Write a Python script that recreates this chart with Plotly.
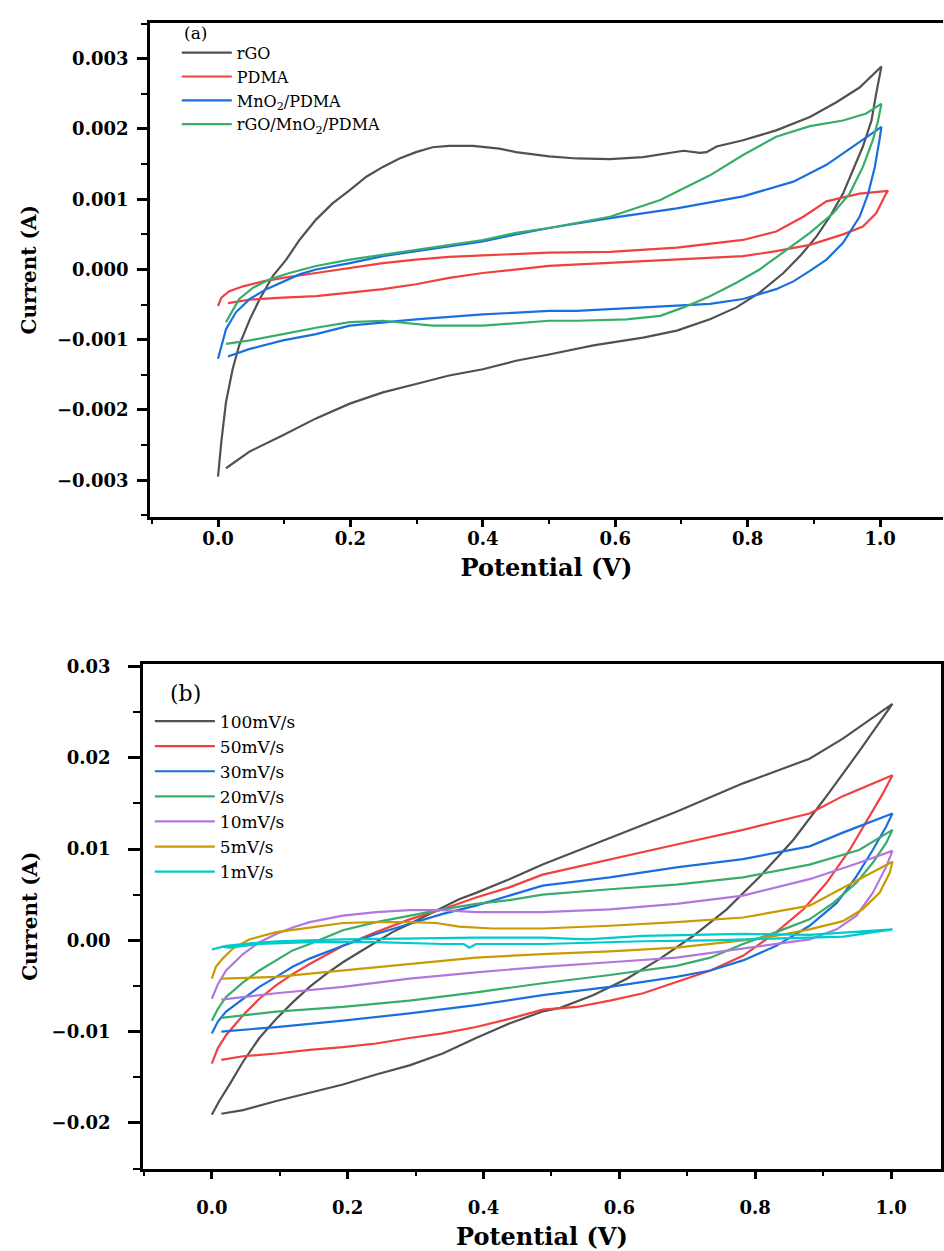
import plotly.graph_objects as go

# ---------------- Panel (a): CV of different electrodes ----------------
rGO_V = [0.000, 0.005, 0.012, 0.022, 0.032, 0.048, 0.063, 0.083, 0.103, 0.123, 0.148, 0.173, 0.199, 0.224,
         0.249, 0.274, 0.299, 0.324, 0.349, 0.385, 0.425, 0.450, 0.500, 0.542, 0.592, 0.642, 0.703, 0.728,
         0.738, 0.753, 0.793, 0.843, 0.894, 0.934, 0.969, 1.002,
         0.994, 0.987, 0.974, 0.959, 0.944, 0.924, 0.904, 0.879, 0.854, 0.818, 0.783, 0.743, 0.693, 0.642,
         0.567, 0.500, 0.450, 0.400, 0.349, 0.299, 0.249, 0.199, 0.148, 0.098, 0.048, 0.012]
rGO_I = [-2.95e-3, -2.45e-3, -1.89e-3, -1.42e-3, -1.08e-3, -0.71e-3, -0.42e-3, -0.09e-3, 0.14e-3, 0.42e-3,
         0.71e-3, 0.94e-3, 1.13e-3, 1.32e-3, 1.46e-3, 1.58e-3, 1.67e-3, 1.74e-3, 1.76e-3, 1.76e-3, 1.72e-3,
         1.67e-3, 1.61e-3, 1.58e-3, 1.57e-3, 1.60e-3, 1.69e-3, 1.66e-3, 1.67e-3, 1.75e-3, 1.84e-3, 1.98e-3,
         2.17e-3, 2.38e-3, 2.59e-3, 2.89e-3,
         2.50e-3, 2.12e-3, 1.75e-3, 1.42e-3, 1.08e-3, 0.75e-3, 0.47e-3, 0.19e-3, -0.05e-3, -0.33e-3,
         -0.54e-3, -0.71e-3, -0.87e-3, -0.97e-3, -1.08e-3, -1.21e-3, -1.30e-3, -1.42e-3, -1.51e-3,
         -1.63e-3, -1.75e-3, -1.91e-3, -2.12e-3, -2.36e-3, -2.59e-3, -2.83e-3]

PDMA_V = [0.000, 0.005, 0.017, 0.038, 0.068, 0.098, 0.148, 0.199, 0.249, 0.299, 0.349, 0.400, 0.450, 0.500,
          0.592, 0.693, 0.793, 0.843, 0.884, 0.919, 0.969, 1.012,
          1.009, 0.994, 0.974, 0.944, 0.894, 0.843, 0.793, 0.693, 0.592, 0.500, 0.400, 0.349, 0.299, 0.249,
          0.199, 0.148, 0.098, 0.048, 0.015]
PDMA_I = [-0.52e-3, -0.40e-3, -0.31e-3, -0.24e-3, -0.17e-3, -0.12e-3, -0.05e-3, 0.02e-3, 0.09e-3, 0.14e-3,
          0.18e-3, 0.20e-3, 0.22e-3, 0.24e-3, 0.25e-3, 0.31e-3, 0.42e-3, 0.54e-3, 0.75e-3, 0.97e-3, 1.08e-3,
          1.12e-3,
          1.08e-3, 0.80e-3, 0.61e-3, 0.50e-3, 0.35e-3, 0.26e-3, 0.19e-3, 0.14e-3, 0.09e-3, 0.05e-3, -0.05e-3,
          -0.12e-3, -0.21e-3, -0.28e-3, -0.33e-3, -0.38e-3, -0.40e-3, -0.43e-3, -0.48e-3]

MnO2_V = [0.000, 0.005, 0.012, 0.027, 0.048, 0.073, 0.098, 0.123, 0.148, 0.199, 0.249, 0.299, 0.349, 0.400,
          0.450, 0.500, 0.592, 0.693, 0.793, 0.869, 0.919, 0.969, 1.002,
          0.999, 0.992, 0.982, 0.969, 0.944, 0.919, 0.894, 0.869, 0.843, 0.793, 0.743, 0.642, 0.542, 0.500,
          0.400, 0.299, 0.199, 0.148, 0.098, 0.048, 0.015]
MnO2_I = [-1.27e-3, -1.08e-3, -0.85e-3, -0.61e-3, -0.42e-3, -0.28e-3, -0.17e-3, -0.07e-3, 0.00, 0.09e-3,
          0.19e-3, 0.26e-3, 0.33e-3, 0.40e-3, 0.50e-3, 0.59e-3, 0.73e-3, 0.87e-3, 1.04e-3, 1.25e-3, 1.49e-3,
          1.82e-3, 2.03e-3,
          1.84e-3, 1.46e-3, 1.08e-3, 0.75e-3, 0.38e-3, 0.14e-3, -0.02e-3, -0.17e-3, -0.28e-3, -0.42e-3,
          -0.49e-3, -0.54e-3, -0.59e-3, -0.59e-3, -0.64e-3, -0.71e-3, -0.80e-3, -0.92e-3, -1.01e-3,
          -1.13e-3, -1.24e-3]

COMP_V = [0.012, 0.020, 0.032, 0.053, 0.078, 0.108, 0.148, 0.199, 0.249, 0.299, 0.349, 0.400, 0.450, 0.500,
          0.592, 0.668, 0.743, 0.793, 0.843, 0.894, 0.944, 0.979, 1.002,
          0.997, 0.989, 0.974, 0.954, 0.929, 0.894, 0.854, 0.818, 0.783, 0.743, 0.703, 0.668, 0.617, 0.542,
          0.500, 0.400, 0.324, 0.249, 0.199, 0.148, 0.098, 0.048, 0.012]
COMP_I = [-0.75e-3, -0.61e-3, -0.42e-3, -0.26e-3, -0.14e-3, -0.05e-3, 0.05e-3, 0.14e-3, 0.21e-3, 0.28e-3,
          0.35e-3, 0.42e-3, 0.52e-3, 0.59e-3, 0.75e-3, 0.99e-3, 1.34e-3, 1.63e-3, 1.89e-3, 2.04e-3, 2.12e-3,
          2.22e-3, 2.36e-3,
          2.12e-3, 1.84e-3, 1.46e-3, 1.08e-3, 0.80e-3, 0.52e-3, 0.24e-3, 0.00, -0.19e-3, -0.38e-3, -0.54e-3,
          -0.66e-3, -0.71e-3, -0.73e-3, -0.73e-3, -0.80e-3, -0.80e-3, -0.73e-3, -0.75e-3, -0.83e-3,
          -0.92e-3, -1.01e-3, -1.06e-3]

names_a = ["rGO", "PDMA", "MnO<sub>2</sub>/PDMA", "rGO/MnO<sub>2</sub>/PDMA"]
colors_a = ["#515151", "#F14040", "#1A6FDF", "#37AD6B"]
data_a = [(rGO_V, rGO_I), (PDMA_V, PDMA_I), (MnO2_V, MnO2_I), (COMP_V, COMP_I)]

# ---------------- Panel (b): rGO/MnO2/PDMA at different scan rates ----------------
s100_V = [0.000, 0.011, 0.026, 0.046, 0.070, 0.095, 0.119, 0.144, 0.168, 0.193, 0.217, 0.242, 0.266, 0.291,
          0.315, 0.340, 0.364, 0.389, 0.438, 0.487, 0.586, 0.684, 0.782, 0.880, 0.929, 1.002,
          0.954, 0.905, 0.856, 0.807, 0.758, 0.709, 0.660, 0.611, 0.562, 0.513, 0.487, 0.438, 0.389, 0.340,
          0.291, 0.242, 0.193, 0.144, 0.095, 0.046, 0.014]
s100_I = [-0.0191, -0.0176, -0.0158, -0.0133, -0.0107, -0.0086, -0.0068, -0.0051, -0.0037, -0.0024, -0.0013,
          -0.0002, 0.0009, 0.0018, 0.0027, 0.0036, 0.0045, 0.0052, 0.0067, 0.0083, 0.0112, 0.0141, 0.0172,
          0.0199, 0.0221, 0.0259,
          0.0208, 0.0158, 0.0110, 0.0070, 0.0034, 0.0005, -0.0020, -0.0042, -0.0060, -0.0074, -0.0078,
          -0.0091, -0.0107, -0.0124, -0.0137, -0.0147, -0.0158, -0.0167, -0.0176, -0.0186, -0.0190]

s50_V = [0.000, 0.009, 0.021, 0.046, 0.070, 0.095, 0.119, 0.144, 0.193, 0.242, 0.291, 0.340, 0.389, 0.438,
         0.487, 0.586, 0.684, 0.782, 0.880, 0.929, 1.002,
         0.988, 0.968, 0.939, 0.905, 0.871, 0.831, 0.782, 0.734, 0.684, 0.635, 0.586, 0.537, 0.487, 0.438,
         0.389, 0.340, 0.291, 0.242, 0.193, 0.144, 0.095, 0.046, 0.014]
s50_I = [-0.0135, -0.0118, -0.0104, -0.0082, -0.0064, -0.0049, -0.0037, -0.0026, -0.0006, 0.0009, 0.0023,
         0.0034, 0.0047, 0.0058, 0.0072, 0.0089, 0.0105, 0.0121, 0.0139, 0.0158, 0.0181,
         0.0161, 0.0136, 0.0099, 0.0063, 0.0034, 0.0009, -0.0017, -0.0033, -0.0046, -0.0058, -0.0066,
         -0.0073, -0.0076, -0.0086, -0.0095, -0.0102, -0.0107, -0.0113, -0.0117, -0.0120, -0.0124, -0.0127,
         -0.0131]

s30_V = [0.000, 0.009, 0.021, 0.046, 0.070, 0.095, 0.119, 0.144, 0.193, 0.242, 0.291, 0.340, 0.389, 0.438,
         0.487, 0.586, 0.684, 0.782, 0.880, 0.929, 1.002,
         0.993, 0.973, 0.949, 0.920, 0.880, 0.831, 0.782, 0.734, 0.684, 0.586, 0.487, 0.389, 0.291, 0.193,
         0.095, 0.046, 0.014]
s30_I = [-0.0102, -0.0089, -0.0078, -0.0064, -0.0051, -0.0040, -0.0029, -0.0020, -0.0006, 0.0007, 0.0018,
         0.0029, 0.0038, 0.0049, 0.0060, 0.0069, 0.0080, 0.0089, 0.0103, 0.0118, 0.0139,
         0.0125, 0.0099, 0.0070, 0.0041, 0.0016, -0.0006, -0.0022, -0.0033, -0.0040, -0.0051, -0.0060,
         -0.0071, -0.0080, -0.0088, -0.0095, -0.0098, -0.0100]

s20_V = [0.000, 0.009, 0.021, 0.046, 0.070, 0.095, 0.119, 0.144, 0.193, 0.242, 0.291, 0.340, 0.389, 0.438,
         0.487, 0.586, 0.684, 0.782, 0.880, 0.953, 1.002,
         0.993, 0.973, 0.949, 0.915, 0.880, 0.831, 0.782, 0.734, 0.684, 0.586, 0.487, 0.389, 0.291, 0.193,
         0.095, 0.014]
s20_I = [-0.0088, -0.0075, -0.0062, -0.0046, -0.0033, -0.0022, -0.0011, -0.0004, 0.0011, 0.0020, 0.0027,
         0.0034, 0.0040, 0.0044, 0.0050, 0.0056, 0.0061, 0.0069, 0.0083, 0.0099, 0.0121,
         0.0107, 0.0085, 0.0063, 0.0041, 0.0023, 0.0009, -0.0004, -0.0019, -0.0028, -0.0038, -0.0047,
         -0.0057, -0.0066, -0.0073, -0.0078, -0.0085]

s10_V = [0.000, 0.009, 0.021, 0.046, 0.070, 0.095, 0.119, 0.144, 0.193, 0.242, 0.291, 0.340, 0.364, 0.389,
         0.438, 0.487, 0.586, 0.684, 0.782, 0.880, 0.953, 1.002,
         0.993, 0.973, 0.949, 0.920, 0.880, 0.831, 0.782, 0.684, 0.586, 0.487, 0.389, 0.291, 0.193, 0.095,
         0.014]
s10_I = [-0.0064, -0.0048, -0.0033, -0.0015, -0.0002, 0.0007, 0.0014, 0.0020, 0.0027, 0.0031, 0.0033,
         0.0033, 0.0032, 0.0031, 0.0031, 0.0031, 0.0034, 0.0040, 0.0049, 0.0067, 0.0085, 0.0098,
         0.0081, 0.0052, 0.0027, 0.0012, 0.0001, -0.0004, -0.0009, -0.0019, -0.0024, -0.0029, -0.0035,
         -0.0042, -0.0051, -0.0058, -0.0065]

s5_V = [0.000, 0.006, 0.016, 0.031, 0.055, 0.095, 0.144, 0.193, 0.242, 0.291, 0.330, 0.364, 0.413, 0.487,
        0.586, 0.684, 0.782, 0.880, 0.953, 1.002,
        0.998, 0.983, 0.958, 0.929, 0.880, 0.831, 0.782, 0.684, 0.586, 0.487, 0.389, 0.291, 0.193, 0.095,
        0.014]
s5_I = [-0.0042, -0.0029, -0.0020, -0.0009, 0.0001, 0.0009, 0.0014, 0.0019, 0.0020, 0.0020, 0.0019,
        0.0015, 0.0013, 0.0013, 0.0016, 0.0020, 0.0025, 0.0038, 0.0067, 0.0086,
        0.0074, 0.0052, 0.0034, 0.0021, 0.0012, 0.0005, 0.0000, -0.0008, -0.0012, -0.0015, -0.0019,
        -0.0026, -0.0033, -0.0040, -0.0042]

s1_V = [0.000, 0.021, 0.046, 0.095, 0.193, 0.291, 0.389, 0.488, 0.552, 0.635, 0.782, 0.880, 1.002,
        0.930, 0.831, 0.734, 0.635, 0.552, 0.488, 0.389, 0.379, 0.371, 0.340, 0.242, 0.144, 0.070, 0.026,
        0.014]
s1_I = [-0.0010, -0.0006, -0.0004, -0.0001, 0.0001, 0.0002, 0.0003, 0.0003, 0.0001, 0.0005, 0.0007,
        0.0006, 0.0012,
        0.0004, 0.0002, 0.0000, -0.0001, -0.0003, -0.0004, -0.0004, -0.0008, -0.0004, -0.0004, -0.0002,
        -0.0002, -0.0004, -0.0008, -0.0007]

names_b = ["100mV/s", "50mV/s", "30mV/s", "20mV/s", "10mV/s", "5mV/s", "1mV/s"]
colors_b = ["#515151", "#F14040", "#1A6FDF", "#37AD6B", "#B177DE", "#CC9900", "#00CBCC"]
data_b = [(s100_V, s100_I), (s50_V, s50_I), (s30_V, s30_I), (s20_V, s20_I),
          (s10_V, s10_I), (s5_V, s5_I), (s1_V, s1_I)]

W, H = 944, 1251
SERIF = "DejaVu Serif"

fig = go.Figure()
for (v, i), n, c in zip(data_a, names_a, colors_a):
    fig.add_trace(go.Scatter(x=v, y=i, mode="lines", name=n, line=dict(color=c, width=2.2),
                             xaxis="x", yaxis="y", legend="legend"))
for (v, i), n, c in zip(data_b, names_b, colors_b):
    fig.add_trace(go.Scatter(x=v, y=i, mode="lines", name=n, line=dict(color=c, width=2.2),
                             xaxis="x2", yaxis="y2", legend="legend2"))

tickfont = dict(family=SERIF, size=18, color="black", weight="bold")
titlefont_x = dict(family=SERIF, size=24, color="black", weight="bold")
titlefont_y = dict(family=SERIF, size=20, color="black", weight="bold")

common = dict(showline=True, linecolor="black", linewidth=2.5, showgrid=False, zeroline=False,
              ticks="outside", tickcolor="black", tickwidth=2.5, tickfont=tickfont)

fig.update_layout(
    width=W, height=H, margin=dict(l=0, r=0, t=0, b=0),
    paper_bgcolor="white", plot_bgcolor="white",
    xaxis=dict(domain=[150 / W, 1.0], range=[-0.103, 1.095], anchor="y", mirror=True,
               tick0=0, dtick=0.2, tickformat=".1f", ticklen=8, ticklabelstandoff=-4,
               minor=dict(ticks="outside", ticklen=5, tickwidth=2, tickcolor="black", dtick=0.1, tick0=0),
               title=dict(text="Potential (V)", font=titlefont_x, standoff=12), **common),
    yaxis=dict(domain=[1 - 512 / H, 1 - 15 / H], range=[-0.00352, 0.00351], anchor="x",
               tick0=0, dtick=0.001, tickformat=".3f", ticklen=10, ticklabelstandoff=5,
               minor=dict(ticks="outside", ticklen=6, tickwidth=2, tickcolor="black", dtick=0.0005, tick0=0),
               title=dict(text="Current (A)", font=titlefont_y, standoff=16), **common),
    xaxis2=dict(domain=[143 / W, 942 / W], range=[-0.1015, 1.0735], anchor="y2", mirror=True,
                tick0=0, dtick=0.2, tickformat=".1f", ticklen=8, ticklabelstandoff=13,
                minor=dict(ticks="outside", ticklen=5, tickwidth=2, tickcolor="black", dtick=0.1, tick0=0),
                title=dict(text="Potential (V)", font=titlefont_x, standoff=14), **common),
    yaxis2=dict(domain=[1 - 1168 / H, 1 - 660 / H], range=[-0.025, 0.0303], anchor="x2", mirror=True,
                tick0=0, dtick=0.01, tickformat=".2f", ticklen=12, ticklabelstandoff=14,
                minor=dict(ticks="outside", ticklen=7, tickwidth=2, tickcolor="black", dtick=0.005, tick0=0),
                title=dict(text="Current (A)", font=titlefont_y, standoff=9), **common),
    legend=dict(x=177 / W, y=1 - 28 / H, xanchor="left", yanchor="top", bgcolor="rgba(0,0,0,0)",
                font=dict(family=SERIF, size=16, color="black"), itemwidth=50, borderwidth=0),
    legend2=dict(x=150 / W, y=1 - 700 / H, xanchor="left", yanchor="top", bgcolor="rgba(0,0,0,0)",
                 font=dict(family=SERIF, size=17, color="black"), itemwidth=60, borderwidth=0),
    annotations=[
        dict(text="(a)", x=196 / W, y=1 - 25 / H, xref="paper", yref="paper", showarrow=False,
             xanchor="center", yanchor="middle", font=dict(family=SERIF, size=17, color="black")),
        dict(text="(b)", x=186 / W, y=1 - 690 / H, xref="paper", yref="paper", showarrow=False,
             xanchor="center", yanchor="middle", font=dict(family=SERIF, size=22, color="black")),
    ],
)

fig.write_html("out.html", config={"displayModeBar": False},
               post_script="document.body.style.margin='0px';document.body.style.overflow='hidden';")
